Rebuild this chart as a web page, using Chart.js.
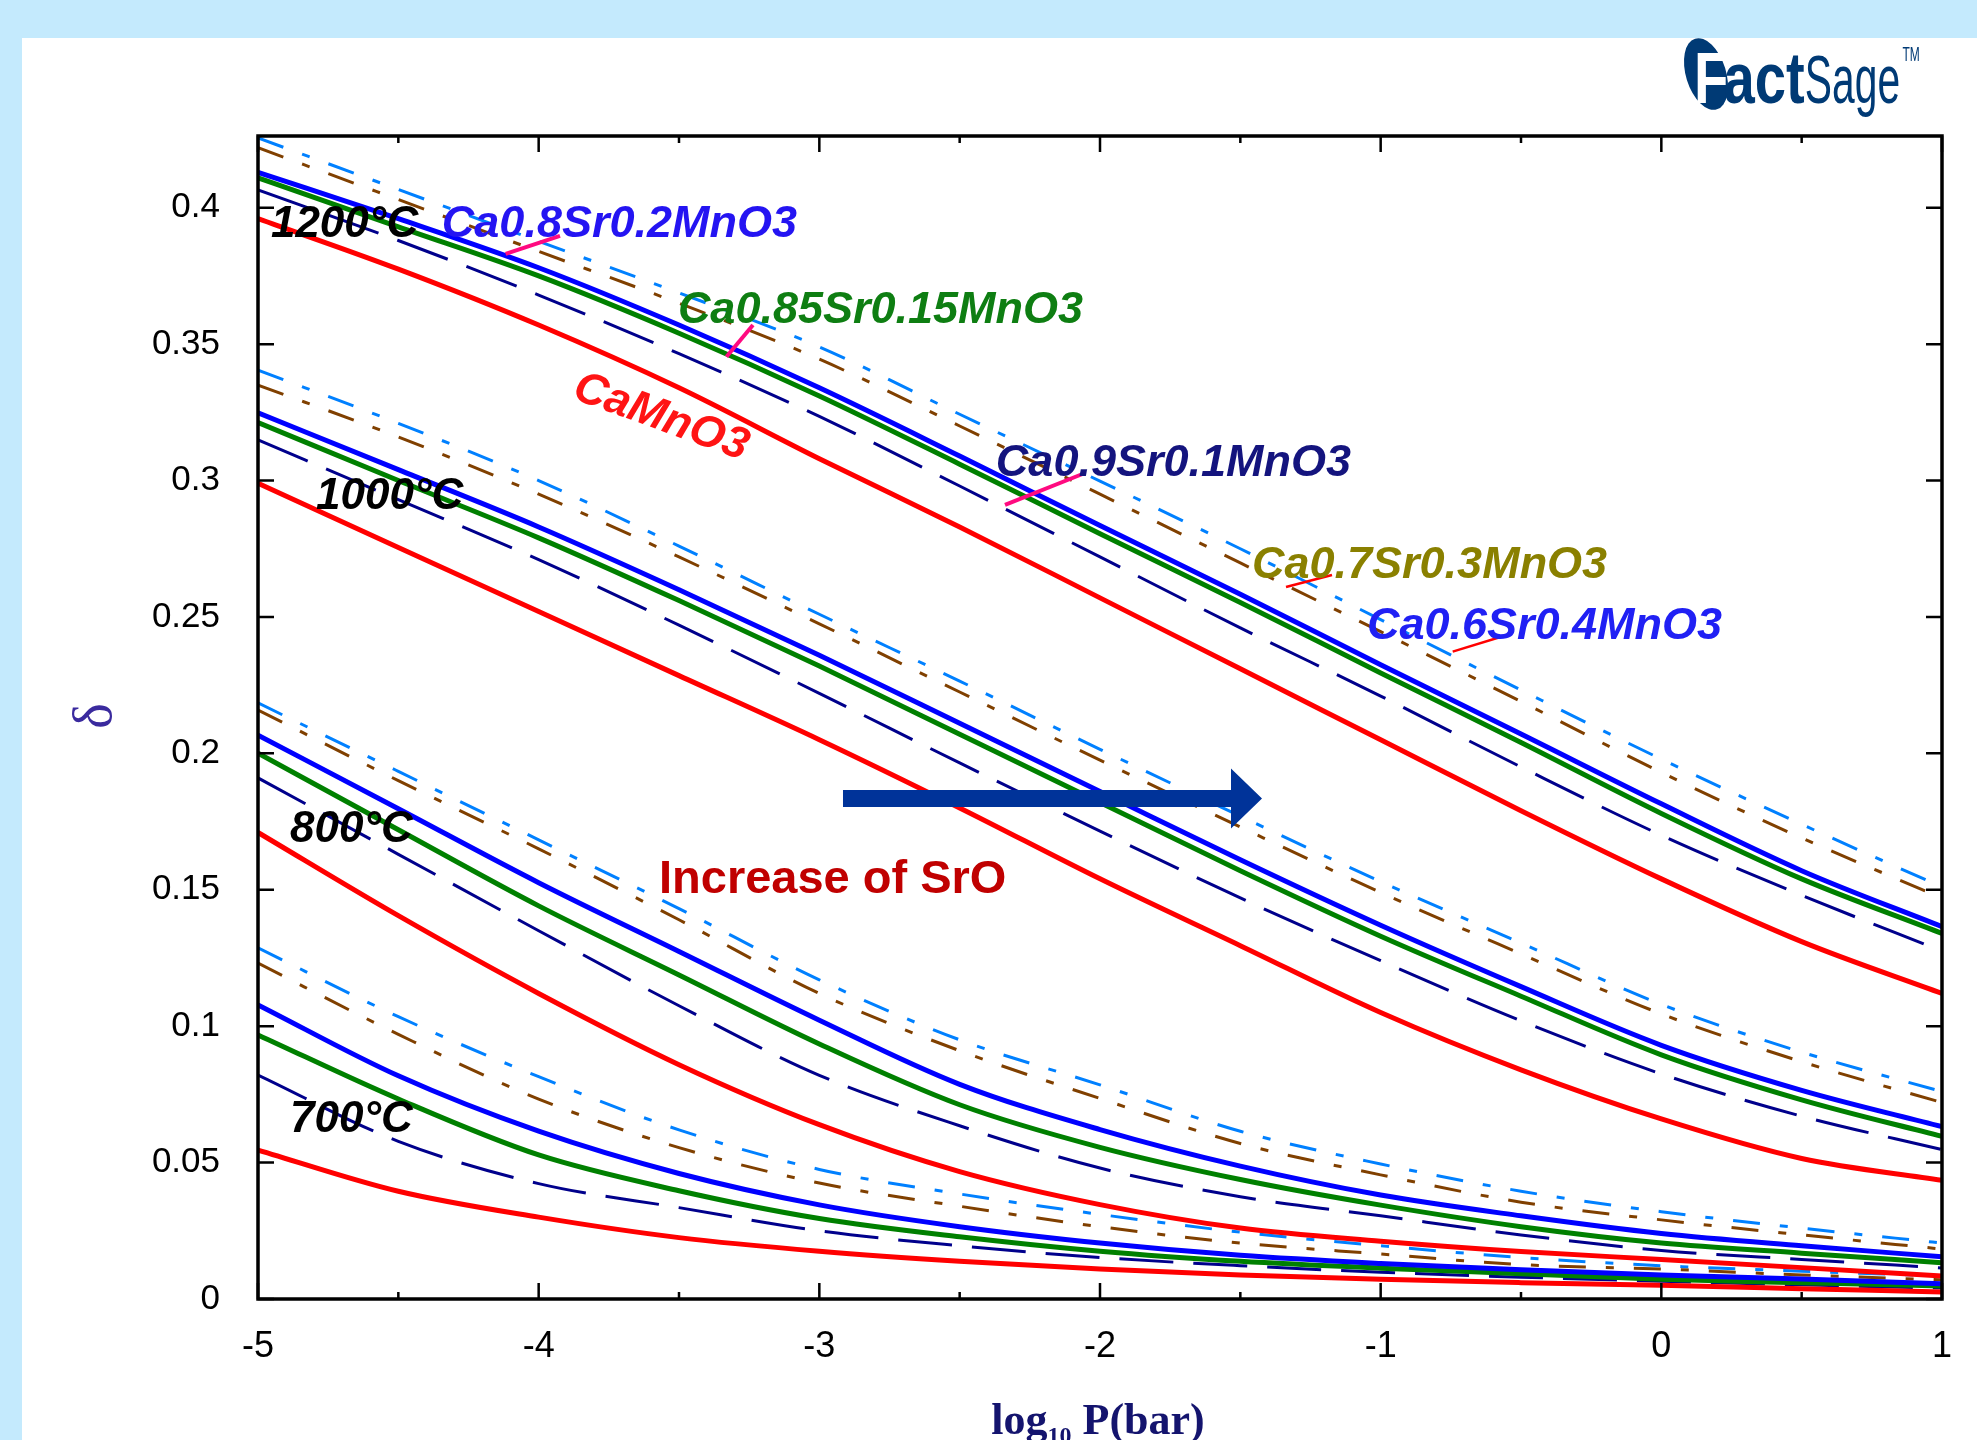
<!DOCTYPE html>
<html><head><meta charset="utf-8">
<script src="https://cdn.jsdelivr.net/npm/chart.js@4.4.1/dist/chart.umd.min.js"></script>
<style>
html,body{margin:0;padding:0;background:#C4EAFD;overflow:hidden}
canvas{display:block}
</style></head><body>
<canvas id="c" width="1977" height="1440"></canvas>
<script>
// ---------- data ----------
const logP = [-5, -4.5, -4, -3.5, -3, -2.5, -2, -1.5, -1, -0.5, 0, 0.5, 1];

// 1200 °C
const d1200_CaMnO3 = [0.396, 0.3775, 0.357, 0.334, 0.308, 0.283, 0.257, 0.231, 0.205, 0.179, 0.154, 0.131, 0.112];
const d1200_Sr01   = [0.4065, 0.388, 0.368, 0.3465, 0.3235, 0.298, 0.272, 0.246, 0.221, 0.195, 0.170, 0.148, 0.1275];
const d1200_Sr015  = [0.411, 0.393, 0.375, 0.354, 0.331, 0.306, 0.2805, 0.2553, 0.2295, 0.204, 0.178, 0.154, 0.134];
const d1200_Sr02   = [0.413, 0.396, 0.378, 0.357, 0.334, 0.309, 0.2835, 0.2583, 0.2325, 0.2071, 0.1815, 0.157, 0.1365];
const d1200_Sr03   = [0.422, 0.403, 0.384, 0.365, 0.3445, 0.320, 0.295, 0.2698, 0.2446, 0.219, 0.193, 0.169, 0.147];
const d1200_Sr04   = [0.4256, 0.4067, 0.3877, 0.3688, 0.349, 0.3243, 0.2998, 0.275, 0.249, 0.2232, 0.1979, 0.174, 0.151];

// 1000 °C
const d1000_CaMnO3 = [0.299, 0.2755, 0.252, 0.2285, 0.205, 0.180, 0.154, 0.1295, 0.105, 0.084, 0.066, 0.0515, 0.0435];
const d1000_Sr01   = [0.3149, 0.293, 0.271, 0.247, 0.222, 0.1965, 0.1715, 0.147, 0.124, 0.102, 0.0825, 0.067, 0.0548];
const d1000_Sr015  = [0.3213, 0.300, 0.279, 0.256, 0.232, 0.207, 0.182, 0.157, 0.133, 0.111, 0.0895, 0.073, 0.0596];
const d1000_Sr02   = [0.3248, 0.304, 0.283, 0.260, 0.236, 0.211, 0.186, 0.161, 0.137, 0.1145, 0.093, 0.0765, 0.0632];
const d1000_Sr03   = [0.335, 0.316, 0.295, 0.272, 0.2475, 0.2225, 0.1975, 0.173, 0.149, 0.1265, 0.1045, 0.087, 0.072];
const d1000_Sr04   = [0.3405, 0.321, 0.300, 0.276, 0.251, 0.2265, 0.2015, 0.177, 0.153, 0.1305, 0.108, 0.0905, 0.076];

// 800 °C
const d800_CaMnO3 = [0.171, 0.1405, 0.112, 0.0859, 0.0639, 0.0467, 0.0346, 0.026, 0.0212, 0.0174, 0.0145, 0.0115, 0.0084];
const d800_Sr01   = [0.191, 0.163, 0.135, 0.1075, 0.082, 0.0635, 0.048, 0.0375, 0.0305, 0.0235, 0.0178, 0.0145, 0.0114];
const d800_Sr015  = [0.2001, 0.172, 0.1441, 0.1188, 0.0935, 0.0712, 0.0556, 0.0438, 0.0344, 0.0265, 0.0205, 0.0168, 0.0133];
const d800_Sr02   = [0.2067, 0.1797, 0.1526, 0.1274, 0.1022, 0.0787, 0.0621, 0.0487, 0.0381, 0.0305, 0.024, 0.0195, 0.0155];
const d800_Sr03   = [0.2159, 0.190, 0.165, 0.139, 0.112, 0.091, 0.0735, 0.057, 0.0455, 0.0355, 0.029, 0.0235, 0.0183];
const d800_Sr04   = [0.2185, 0.1934, 0.1683, 0.1431, 0.117, 0.095, 0.0785, 0.0615, 0.0495, 0.0395, 0.032, 0.026, 0.0205];

// 700 °C
const d700_CaMnO3 = [0.0546, 0.0395, 0.030, 0.0225, 0.0175, 0.0138, 0.011, 0.0088, 0.0072, 0.006, 0.005, 0.0038, 0.0026];
const d700_Sr01   = [0.0821, 0.0578, 0.0423, 0.0335, 0.025, 0.0195, 0.0152, 0.0122, 0.0098, 0.008, 0.0065, 0.0052, 0.004];
const d700_Sr015  = [0.0968, 0.0733, 0.0528, 0.0397, 0.0295, 0.0228, 0.0175, 0.0138, 0.0113, 0.0093, 0.0072, 0.006, 0.0048];
const d700_Sr02   = [0.1078, 0.0818, 0.0615, 0.046, 0.0345, 0.0265, 0.0205, 0.016, 0.013, 0.0107, 0.0088, 0.0073, 0.0056];
const d700_Sr03   = [0.1231, 0.097, 0.0733, 0.0555, 0.0425, 0.034, 0.0265, 0.0205, 0.0165, 0.0126, 0.011, 0.0088, 0.007];
const d700_Sr04   = [0.1287, 0.1035, 0.0815, 0.062, 0.0475, 0.0385, 0.031, 0.0245, 0.0195, 0.0152, 0.0122, 0.0102, 0.0084];

const xTicks = [-5, -4, -3, -2, -1, 0, 1];
const xMinorTicks = [-4.5, -3.5, -2.5, -1.5, -0.5, 0.5];
const yTicks = [0, 0.05, 0.1, 0.15, 0.2, 0.25, 0.3, 0.35, 0.4];
const yTickLabels = ['0', '0.05', '0.1', '0.15', '0.2', '0.25', '0.3', '0.35', '0.4'];

const temperatureLabels = ['1200°C', '1000°C', '800°C', '700°C'];
const compositionNames = ['CaMnO3', 'Ca0.9Sr0.1MnO3', 'Ca0.85Sr0.15MnO3', 'Ca0.8Sr0.2MnO3', 'Ca0.7Sr0.3MnO3', 'Ca0.6Sr0.4MnO3'];

// ---------- styles ----------
const seriesDefs = [
  {name: 'CaMnO3',           color: '#FF0000', width: 5, dash: [],              curves: [d1200_CaMnO3, d1000_CaMnO3, d800_CaMnO3, d700_CaMnO3]},
  {name: 'Ca0.8Sr0.2MnO3',   color: '#0000FF', width: 5, dash: [],              curves: [d1200_Sr02, d1000_Sr02, d800_Sr02, d700_Sr02]},
  {name: 'Ca0.85Sr0.15MnO3', color: '#008000', width: 5, dash: [],              curves: [d1200_Sr015, d1000_Sr015, d800_Sr015, d700_Sr015]},
  {name: 'Ca0.9Sr0.1MnO3',   color: '#00008C', width: 3, dash: [54, 20],        curves: [d1200_Sr01, d1000_Sr01, d800_Sr01, d700_Sr01]},
  {name: 'Ca0.7Sr0.3MnO3',   color: '#804000', width: 3, dash: [27, 20, 8, 20], curves: [d1200_Sr03, d1000_Sr03, d800_Sr03, d700_Sr03]},
  {name: 'Ca0.6Sr0.4MnO3',   color: '#0080FF', width: 3, dash: [27, 20, 8, 20], curves: [d1200_Sr04, d1000_Sr04, d800_Sr04, d700_Sr04]}
];

const datasets = [];
seriesDefs.forEach(s => {
  s.curves.forEach((arr, k) => {
    datasets.push({
      label: s.name + ' ' + temperatureLabels[k],
      data: logP.map((x, i) => ({x: x, y: arr[i]})),
      borderColor: s.color,
      borderWidth: s.width,
      borderDash: s.dash,
      pointRadius: 0,
      fill: false,
      cubicInterpolationMode: 'monotone',
      borderCapStyle: 'butt'
    });
  });
});

// annotation placements (data coordinates)
const tempLabelPos = [
  {text: temperatureLabels[0], x: -4.954, y: 0.3893},
  {text: temperatureLabels[1], x: -4.793, y: 0.2896},
  {text: temperatureLabels[2], x: -4.886, y: 0.1675},
  {text: temperatureLabels[3], x: -4.886, y: 0.0612}
];
const compLabelPos = [
  {text: 'Ca0.8Sr0.2MnO3',   x: -4.345, y: 0.3893, color: '#2414F2', rot: 0},
  {text: 'Ca0.85Sr0.15MnO3', x: -3.504, y: 0.3578, color: '#0E7E12', rot: 0},
  {text: 'CaMnO3',           x: -3.885, y: 0.3303, color: '#FF1414', rot: 20},
  {text: 'Ca0.9Sr0.1MnO3',   x: -2.371, y: 0.3017, color: '#14147E', rot: 0},
  {text: 'Ca0.7Sr0.3MnO3',   x: -1.4585, y: 0.2643, color: '#8A8000', rot: 0},
  {text: 'Ca0.6Sr0.4MnO3',   x: -1.049, y: 0.2419, color: '#2020F4', rot: 0}
];
const leaders = [
  {x1: -4.1178, y1: 0.3831, x2: -3.924, y2: 0.3897, color: '#FF0A80', w: 4},
  {x1: -3.3308, y1: 0.3454, x2: -3.2364, y2: 0.3570, color: '#FF0A80', w: 4},
  {x1: -2.3385, y1: 0.2911, x2: -2.0623, y2: 0.3024, color: '#FF0A80', w: 4},
  {x1: -1.3373, y1: 0.2610, x2: -1.1734, y2: 0.2654, color: '#FF0000', w: 2.5},
  {x1: -0.7434, y1: 0.2373, x2: -0.5499, y2: 0.2434, color: '#FF0000', w: 2.5}
];
const arrowPos = {x1: -2.9157, x2: -1.4228, y: 0.18347};
const sroLabel = {text: 'Increase of SrO', x: -3.5713, y: 0.1488};

// ---------- plugin ----------
const decor = {
  id: 'decor',
  beforeDraw(chart) {
    const ctx = chart.ctx;
    ctx.save();
    ctx.fillStyle = '#C4EAFD';
    ctx.fillRect(0, 0, chart.width, chart.height);
    ctx.fillStyle = '#FFFFFF';
    ctx.fillRect(22, 38, chart.width - 22, chart.height - 38);
    ctx.restore();
  },
  afterDraw(chart) {
    const ctx = chart.ctx;
    const xs = chart.scales.x, ys = chart.scales.y;
    const a = chart.chartArea;
    const X = v => xs.getPixelForValue(v), Y = v => ys.getPixelForValue(v);
    ctx.save();
    // ticks (inward)
    ctx.strokeStyle = '#000';
    ctx.lineWidth = 2.5;
    ctx.beginPath();
    xTicks.forEach(v => {
      const p = X(v);
      ctx.moveTo(p, a.bottom); ctx.lineTo(p, a.bottom - 16);
      ctx.moveTo(p, a.top); ctx.lineTo(p, a.top + 16);
    });
    xMinorTicks.forEach(v => {
      const p = X(v);
      ctx.moveTo(p, a.bottom); ctx.lineTo(p, a.bottom - 7);
      ctx.moveTo(p, a.top); ctx.lineTo(p, a.top + 7);
    });
    yTicks.forEach(v => {
      const p = Y(v);
      ctx.moveTo(a.left, p); ctx.lineTo(a.left + 16, p);
      ctx.moveTo(a.right, p); ctx.lineTo(a.right - 16, p);
    });
    ctx.stroke();
    // frame
    ctx.lineWidth = 3.5;
    ctx.strokeRect(a.left, a.top, a.right - a.left, a.bottom - a.top);

    // leaders
    leaders.forEach(l => {
      ctx.strokeStyle = l.color;
      ctx.lineWidth = l.w;
      ctx.beginPath();
      ctx.moveTo(X(l.x1), Y(l.y1));
      ctx.lineTo(X(l.x2), Y(l.y2));
      ctx.stroke();
    });

    // temperature labels
    ctx.fillStyle = '#000';
    ctx.font = "bold italic 44px 'Liberation Sans', Arial, sans-serif";
    ctx.textBaseline = 'alphabetic';
    ctx.textAlign = 'left';
    tempLabelPos.forEach(t => ctx.fillText(t.text, X(t.x), Y(t.y)));

    // composition labels
    ctx.font = "bold italic 45px 'Liberation Sans', Arial, sans-serif";
    compLabelPos.forEach(c => {
      ctx.save();
      ctx.translate(X(c.x), Y(c.y));
      ctx.rotate(c.rot * Math.PI / 180);
      ctx.fillStyle = c.color;
      ctx.fillText(c.text, 0, 0);
      ctx.restore();
    });

    // arrow
    const ax1 = X(arrowPos.x1), ax2 = X(arrowPos.x2), ay = Y(arrowPos.y);
    const headLen = 31, shaftHalf = 8.5, headHalf = 30;
    ctx.fillStyle = '#003399';
    ctx.beginPath();
    ctx.moveTo(ax1, ay - shaftHalf);
    ctx.lineTo(ax2 - headLen, ay - shaftHalf);
    ctx.lineTo(ax2 - headLen, ay - headHalf);
    ctx.lineTo(ax2, ay);
    ctx.lineTo(ax2 - headLen, ay + headHalf);
    ctx.lineTo(ax2 - headLen, ay + shaftHalf);
    ctx.lineTo(ax1, ay + shaftHalf);
    ctx.closePath();
    ctx.fill();

    // Increase of SrO
    ctx.fillStyle = '#C00000';
    ctx.font = "bold 47px 'Liberation Sans', Arial, sans-serif";
    ctx.fillText(sroLabel.text, X(sroLabel.x), Y(sroLabel.y));

    // x axis title
    const cx = (a.left + a.right) / 2 - 2;
    ctx.fillStyle = '#14146E';
    const fMain = "bold 44px 'Liberation Serif', 'Times New Roman', serif";
    const fSub = "bold 24px 'Liberation Serif', 'Times New Roman', serif";
    ctx.font = fMain; const w1 = ctx.measureText('log').width;
    const w3 = ctx.measureText(' P(bar)').width;
    ctx.font = fSub; const w2 = ctx.measureText('10').width;
    let tx = cx - (w1 + w2 + w3) / 2;
    const tb = 1434;
    ctx.font = fMain; ctx.fillText('log', tx, tb); tx += w1;
    ctx.font = fSub; ctx.fillText('10', tx, tb + 9); tx += w2;
    ctx.font = fMain; ctx.fillText(' P(bar)', tx, tb);

    // y axis title
    ctx.save();
    ctx.translate(97, 716);
    ctx.rotate(-Math.PI / 2);
    ctx.fillStyle = '#3A2A9E';
    ctx.font = "54px 'Liberation Serif', 'DejaVu Serif', serif";
    ctx.textAlign = 'center';
    ctx.textBaseline = 'middle';
    ctx.fillText('δ', 0, 0);
    ctx.restore();

    // FactSage logo
    ctx.fillStyle = '#003A75';
    ctx.beginPath();
    ctx.ellipse(1706, 74, 20, 37, -0.3, 0, Math.PI * 2);
    ctx.fill();
    ctx.save();
    ctx.translate(1694, 103);
    ctx.scale(0.78, 1);
    ctx.fillStyle = '#FFFFFF';
    ctx.font = "bold 72px 'Liberation Sans', sans-serif";
    ctx.textAlign = 'left';
    ctx.textBaseline = 'alphabetic';
    ctx.fillText('F', 0, 0);
    const wF = ctx.measureText('F').width;
    ctx.fillStyle = '#003A75';
    ctx.fillText('act', wF - 6, 0);
    const wAct = ctx.measureText('act').width;
    ctx.restore();
    const sx = 1694 + (wAct + 38) * 0.78;
    ctx.save();
    ctx.translate(sx, 103);
    ctx.scale(0.6, 1);
    ctx.fillStyle = '#003A75';
    ctx.font = "68px 'Liberation Sans', sans-serif";
    ctx.fillText('Sage', 0, 0);
    const wSage = ctx.measureText('Sage').width;
    ctx.font = "20px 'Liberation Sans', sans-serif";
    ctx.fillText('TM', wSage + 4, -42);
    ctx.restore();
    ctx.restore();
  }
};

new Chart(document.getElementById('c'), {
  type: 'line',
  data: {datasets: datasets},
  options: {
    responsive: false,
    animation: false,
    devicePixelRatio: 1,
    layout: {padding: {left: 0, right: 35, top: 136, bottom: 0}},
    plugins: {legend: {display: false}, tooltip: {enabled: false}, title: {display: false}},
    scales: {
      x: {
        type: 'linear', min: -5, max: 1,
        grid: {display: false},
        border: {display: false},
        afterBuildTicks: s => { s.ticks = xTicks.map(v => ({value: v})); },
        afterFit: s => { s.height = 141; },
        ticks: {
          color: '#000', padding: 18, maxRotation: 0,
          font: {family: "'Liberation Sans', Arial, sans-serif", size: 36},
          callback: v => String(v)
        }
      },
      y: {
        type: 'linear', min: 0, max: 0.4263,
        grid: {display: false},
        border: {display: false},
        afterBuildTicks: s => { s.ticks = yTicks.map(v => ({value: v})); },
        afterFit: s => { s.width = 258; },
        ticks: {
          color: '#000', padding: 30,
          font: {family: "'Liberation Sans', Arial, sans-serif", size: 35},
          callback: (v, i) => yTickLabels[i]
        }
      }
    }
  },
  plugins: [decor]
});
</script>
</body></html>
